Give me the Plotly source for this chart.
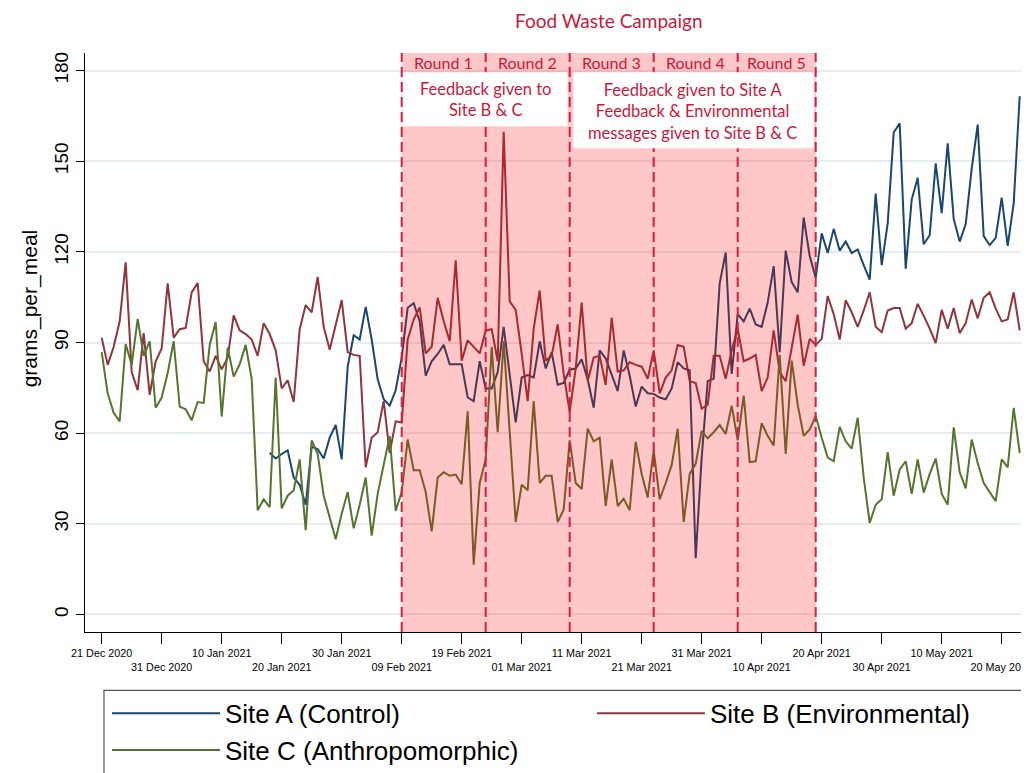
import pandas as pd
import plotly.graph_objects as go

START_DATE = "2020-12-21"

# Site A (Control) - no data before 18 Jan 2021
site_a = [None, None, None, None, None, None, None, None, None, None,
          None, None, None, None, None, None, None, None, None, None,
          None, None, None, None, None, None, None, None,
          53.5, 51.6, 53.1, 54.3, 45.3, 42.9, 36.3, 55.5, 54.7, 51.6,
          58.5, 62.7, 51.3, 82.0, 92.4, 91.0, 101.8, 91.0, 77.8, 71.2,
          69.1, 74.2, 85.0, 101.5, 103.0, 97.0, 79.0, 83.8, 86.2, 89.2,
          82.8, 82.8, 82.8, 71.8, 70.6, 83.8, 74.8, 74.8, 80.2, 95.2,
          80.2, 63.6, 78.4, 79.2, 78.4, 90.4, 81.4, 86.8, 76.0, 76.6,
          81.0, 81.4, 84.4, 77.8, 68.4, 87.4, 84.7, 79.0, 73.9, 87.4,
          79.0, 68.8, 75.4, 73.2, 73.0, 71.8, 71.2, 74.8, 83.5, 81.4,
          80.8, 18.6, 52.0, 77.2, 78.0, 109.6, 119.8, 79.6, 99.4, 97.0,
          101.2, 96.0, 95.2, 103.2, 115.3, 86.8, 120.4, 110.0, 106.6, 131.3,
          118.6, 111.4, 126.1, 119.6, 127.6, 120.4, 123.4, 119.6, 120.8, 115.6,
          110.8, 139.3, 115.6, 129.4, 159.5, 162.5, 114.4, 137.3, 144.5, 122.5,
          125.5, 149.3, 132.8, 155.9, 130.9, 123.4, 129.2, 147.5, 162.1, 125.2,
          122.2, 124.6, 137.9, 122.0, 136.1, 171.5]

# Site B (Environmental)
site_b = [91.6, 82.6, 88.6, 97.0, 116.5, 80.2, 74.2, 93.1, 72.7, 83.8,
          88.0, 109.6, 91.6, 94.4, 94.8, 106.6, 109.7, 83.8, 80.4, 85.6,
          81.1, 85.0, 99.0, 94.0, 92.8, 91.0, 85.6, 96.4, 92.8, 87.4,
          74.8, 77.5, 70.3, 94.4, 102.4, 100.0, 111.7, 95.2, 87.6, 95.8,
          104.0, 86.8, 85.9, 85.6, 48.7, 58.5, 60.3, 70.6, 53.5, 63.9,
          63.5, 91.0, 97.6, 101.6, 86.4, 88.6, 104.8, 97.0, 90.4, 117.2,
          84.0, 90.7, 88.6, 86.4, 94.0, 94.4, 83.8, 159.7, 103.6, 100.8,
          86.2, 70.6, 94.6, 107.2, 84.0, 85.6, 96.0, 79.6, 67.0, 81.4,
          103.2, 77.2, 85.0, 85.6, 76.0, 98.2, 80.4, 80.8, 83.5, 82.6,
          82.0, 78.0, 87.4, 73.2, 78.4, 80.8, 89.2, 88.6, 77.2, 76.6,
          68.1, 69.4, 85.6, 85.6, 78.0, 87.4, 94.5, 83.8, 84.7, 85.9,
          73.9, 78.4, 94.0, 80.2, 77.2, 88.0, 99.2, 82.3, 91.2, 89.2,
          91.2, 105.4, 99.4, 91.0, 104.0, 100.0, 95.2, 100.6, 106.6, 95.2,
          93.4, 100.6, 101.4, 101.4, 94.6, 96.4, 102.8, 98.8, 94.6, 89.8,
          100.8, 94.6, 101.4, 93.1, 96.4, 104.2, 98.0, 104.8, 106.6, 101.2,
          97.0, 97.6, 106.6, 94.0]

# Site C (Anthropomorphic)
site_c = [86.8, 73.2, 66.7, 63.9, 89.5, 82.6, 97.8, 85.6, 90.4, 68.4,
          71.8, 79.9, 90.4, 68.8, 67.9, 64.3, 70.3, 70.0, 89.2, 96.8,
          65.5, 88.3, 78.7, 82.8, 89.2, 78.0, 34.5, 38.1, 35.5, 78.4,
          35.1, 39.3, 41.1, 51.3, 27.9, 57.6, 53.1, 39.3, 32.1, 24.9,
          33.3, 40.5, 28.5, 36.3, 45.3, 26.1, 39.9, 49.5, 59.1, 34.3,
          40.5, 57.9, 47.7, 47.7, 40.5, 27.5, 45.3, 47.1, 45.9, 46.3,
          43.1, 67.2, 16.5, 43.5, 51.3, 88.6, 60.3, 90.4, 60.9, 30.6,
          42.9, 41.1, 70.6, 43.5, 45.9, 45.9, 30.6, 34.7, 57.6, 43.5,
          41.5, 61.5, 57.3, 58.5, 35.9, 51.3, 35.9, 38.3, 34.5, 57.1,
          46.5, 38.7, 54.3, 38.1, 43.5, 49.5, 61.5, 30.6, 46.5, 49.9,
          60.7, 58.3, 60.3, 62.7, 59.7, 69.1, 57.6, 72.4, 50.4, 50.7,
          63.3, 59.1, 55.9, 85.9, 53.1, 84.0, 69.4, 59.1, 61.2, 65.7,
          58.5, 51.9, 50.7, 62.1, 57.3, 54.9, 65.1, 45.3, 30.3, 36.3,
          38.1, 53.7, 39.3, 48.0, 50.7, 39.9, 51.3, 40.3, 46.5, 51.6,
          39.9, 36.3, 61.9, 47.1, 41.7, 57.9, 50.1, 43.5, 40.5, 37.5,
          51.3, 48.7, 68.4, 53.5]

series_names = ["Site A (Control)", "Site B (Environmental)", "Site C (Anthropomorphic)"]
series_colors = ["#1A476F", "#90353B", "#55752F"]
series_legend = ["legend", "legend2", "legend"]

tick_dates = ["2020-12-21", "2020-12-31", "2021-01-10", "2021-01-20", "2021-01-30",
              "2021-02-09", "2021-02-19", "2021-03-01", "2021-03-11", "2021-03-21",
              "2021-03-31", "2021-04-10", "2021-04-20", "2021-04-30", "2021-05-10",
              "2021-05-20"]
tick_labels = ["21 Dec 2020", "31 Dec 2020", "10 Jan 2021", "20 Jan 2021", "30 Jan 2021",
               "09 Feb 2021", "19 Feb 2021", "01 Mar 2021", "11 Mar 2021", "21 Mar 2021",
               "31 Mar 2021", "10 Apr 2021", "20 Apr 2021", "30 Apr 2021", "10 May 2021",
               "20 May 2021"]

round_bounds = ["2021-02-09", "2021-02-23", "2021-03-09", "2021-03-23", "2021-04-06", "2021-04-19"]
round_names = ["Round 1", "Round 2", "Round 3", "Round 4", "Round 5"]
box_texts = ["Feedback given to<br>Site B & C",
             "Feedback given to Site A<br>Feedback & Environmental<br>messages given to Site B & C"]
campaign_title = "Food Waste Campaign"

CRIMSON = "#D41F45"
TEXT_RED = "#C8193C"

dates = pd.date_range(START_DATE, periods=len(site_b), freq="D")
T = pd.Timestamp
D = lambda d: pd.Timedelta(days=d)

fig = go.Figure()
for name, vals, col, lg in zip(series_names, [site_a, site_b, site_c], series_colors, series_legend):
    fig.add_trace(go.Scatter(x=dates, y=vals, mode="lines", name=name, legend=lg,
                             legendgroup=name, line=dict(color=col, width=2),
                             connectgaps=False))

# tick labels staggered on two rows
staggered = [t if i % 2 == 0 else "<br>" + t for i, t in enumerate(tick_labels)]

shapes = []
# campaign shading (drawn over lines, translucent)
shapes.append(dict(type="rect", xref="x", yref="paper", x0=round_bounds[0], x1=round_bounds[-1],
                   y0=0, y1=1, fillcolor="rgba(255,0,0,0.22)", line=dict(width=0), layer="above"))
dash_line = dict(color=CRIMSON, width=2, dash="10px,5px")
inner = [round_bounds[1], round_bounds[3], round_bounds[4]]
outer = [round_bounds[0], round_bounds[2], round_bounds[5]]
for b in inner:
    shapes.append(dict(type="line", xref="x", yref="paper", x0=b, x1=b, y0=0, y1=1,
                       line=dash_line, layer="above"))
# white text boxes
shapes.append(dict(type="rect", xref="x", yref="paper",
                   x0=T(round_bounds[0]) + D(0.15), x1=T(round_bounds[2]) - D(0.35),
                   y0=0.8733, y1=0.9667, fillcolor="white", line=dict(width=0), layer="above"))
shapes.append(dict(type="rect", xref="x", yref="paper",
                   x0=T(round_bounds[2]) + D(0.6), x1=T(round_bounds[5]) - D(0.3),
                   y0=0.8354, y1=0.9667, fillcolor="white", line=dict(width=0), layer="above"))
for b in outer:
    shapes.append(dict(type="line", xref="x", yref="paper", x0=b, x1=b, y0=0, y1=1,
                       line=dash_line, layer="above"))
# legend frame (runs past the right and bottom edges, as in the original)
shapes.append(dict(type="rect", xref="paper", yref="paper", x0=0.0201, x1=1.05,
                   y0=-0.1007, y1=-0.35, line=dict(color="#555555", width=1.2),
                   fillcolor="rgba(0,0,0,0)", layer="above"))

annotations = []
for i, rn in enumerate(round_names):
    a, b = T(round_bounds[i]), T(round_bounds[i + 1])
    annotations.append(dict(x=a + (b - a) / 2, y=0.984, xref="x", yref="paper", text=rn,
                            showarrow=False, font=dict(family="Lato", size=16, color=TEXT_RED),
                            xanchor="center", yanchor="middle"))
annotations.append(dict(x=T(round_bounds[0]) + (T(round_bounds[2]) - T(round_bounds[0])) / 2,
                        y=0.919, xref="x", yref="paper", text=box_texts[0], showarrow=False,
                        font=dict(family="Lato", size=16.5, color=TEXT_RED),
                        xanchor="center", yanchor="middle"))
annotations.append(dict(x=T(round_bounds[2]) + (T(round_bounds[5]) - T(round_bounds[2])) / 2,
                        y=0.8988, xref="x", yref="paper", text=box_texts[1], showarrow=False,
                        font=dict(family="Lato", size=16.5, color=TEXT_RED),
                        xanchor="center", yanchor="middle"))
annotations.append(dict(x=T(round_bounds[0]) + (T(round_bounds[5]) - T(round_bounds[0])) / 2,
                        y=1.0565, xref="x", yref="paper", text=campaign_title, showarrow=False,
                        font=dict(family="Lato", size=19, color=TEXT_RED),
                        xanchor="center", yanchor="middle"))
annotations.append(dict(x=0, xref="paper", xshift=-55, y=101.3, yref="y", text="grams_per_meal",
                        textangle=-90, showarrow=False,
                        font=dict(family="Liberation Sans", size=21, color="black"),
                        xanchor="center", yanchor="middle"))

legend_common = dict(orientation="v", y=-0.1, xanchor="left", yanchor="top",
                     font=dict(family="Liberation Sans", size=26, color="black"),
                     bgcolor="rgba(0,0,0,0)", borderwidth=0, itemwidth=108,
                     tracegroupgap=5, traceorder="normal")

# page body has an 8px default margin, so the figure is sized to fill the window exactly
fig.update_layout(
    width=1021, height=765,
    margin=dict(l=77, r=0, t=45, b=141, autoexpand=False),
    paper_bgcolor="white", plot_bgcolor="white",
    shapes=shapes, annotations=annotations,
    showlegend=True,
    legend=dict(x=0.0233, **legend_common),
    legend2=dict(x=0.537, **legend_common),
    xaxis=dict(type="date", automargin=False, ticklabeloverflow="allow",
               range=[T(START_DATE) - D(2.78), T(START_DATE) + D(154.55)],
               tickmode="array", tickvals=tick_dates, ticktext=staggered,
               tickangle=0, ticks="outside", ticklen=11, tickcolor="black", tickwidth=1.3,
               tickfont=dict(family="Liberation Sans", size=10.8, color="black"),
               showline=True, linecolor="black", linewidth=1.3,
               showgrid=False, zeroline=False),
    yaxis=dict(range=[-5.8, 185.8], automargin=False,
               tickmode="array", tickvals=[0, 30, 60, 90, 120, 150, 180],
               tickangle=-90, ticks="outside", ticklen=8, tickcolor="black", tickwidth=1.3,
               tickfont=dict(family="Liberation Sans", size=19, color="black"),
               showline=True, linecolor="black", linewidth=1.3,
               showgrid=True, gridcolor="#E6EDF2", gridwidth=1.5, zeroline=False),
)

fig.write_html("out.html")
